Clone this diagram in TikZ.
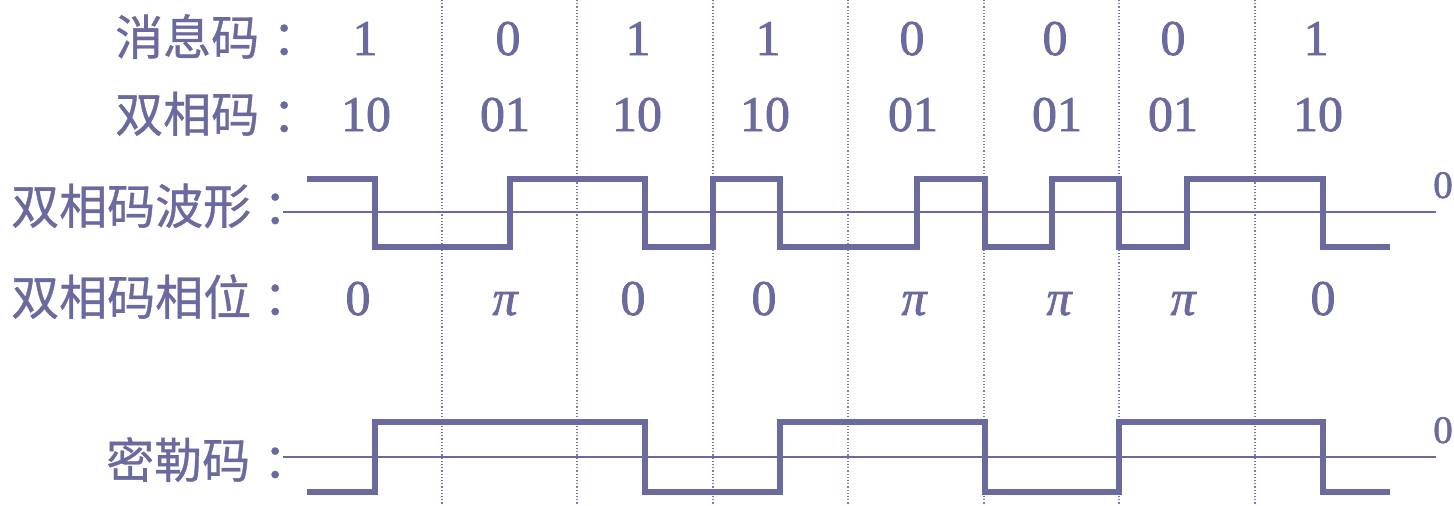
\documentclass[tikz,border=0pt]{standalone}
\usepackage{fontspec}
\setmainfont{Liberation Serif}
\newfontfamily\numfont[FakeBold=1.5]{Liberation Serif}
\newfontfamily\cjk[FakeBold=0.7]{Noto Sans CJK SC}
\definecolor{wavec}{HTML}{6A6A9E}
\definecolor{txtc}{HTML}{6A6A9E}
\definecolor{gridc}{HTML}{7A7AB4}
\begin{document}
\begin{tikzpicture}[x=1pt,y=-1pt,
  lbl/.style={anchor=base west, inner sep=0pt, text=txtc, font=\cjk\fontsize{48}{48}\selectfont},
  num/.style={anchor=base, inner sep=0pt, text=txtc, font=\numfont\fontsize{50}{50}\selectfont},
  zerolbl/.style={anchor=base, inner sep=0pt, text=txtc, font=\numfont\fontsize{39}{39}\selectfont},
  wave/.style={line width=5.5pt, draw=wavec, line join=miter},
  axisline/.style={line width=1.6pt, draw=wavec},
  gridline/.style={line width=1.3pt, draw=gridc, dash pattern=on 1.2pt off 2pt}]
\useasboundingbox (0,0) rectangle (1454,506);
% dotted bit boundaries
\foreach \x in {442,577,713,848,984,1119,1255}
  \draw[gridline] (\x,0) -- (\x,506);
% axes
\draw[axisline] (283,212) -- (1436,212);
\draw[axisline] (283,457) -- (1436,457);
% labels
\node[lbl] (lmsg) at (115,55) {消息码\kern13pt：};
\node[lbl] (lbi) at (115,132) {双相码\kern13pt：};
\node[lbl] (lwave) at (11,224) {双相码波形\kern12pt：};
\node[lbl] (lphase) at (11,315) {双相码相位\kern12pt：};
\node[lbl] (lmiller) at (106,478) {密勒码\kern13pt：};
% message bits
\foreach \x/\t [count=\i] in {365/1,508/0,638/1,768/1,912/0,1055/0,1173/0,1316/1}
  \node[num] (m\i) at (\x,55) {\t};
% biphase code
\foreach \x/\t [count=\i] in {366/10,505/01,637/10,765/10,913/01,1057/01,1173/01,1318/10}
  \node[num] (b\i) at (\x,131) {\t};
% phases
\foreach \x/\t [count=\i] in {358/0,505/{\itshape π},633/0,764/0,914/{\itshape π},1059/{\itshape π},1183/{\itshape π},1323/0}
  \node[num] (p\i) at (\x,315) {\t};
% zero level labels
\node[zerolbl] (z1) at (1443,198) {0};
\node[zerolbl] (z2) at (1443,443) {0};
% biphase waveform
\draw[wave] (307,179) -| (375,247) -| (510,179) -| (645,247) -| (713,179) -| (780,247)
  -| (917,179) -| (985,247) -| (1052,179) -| (1119,247) -| (1187,179) -| (1323,247) -- (1390,247);
% Miller waveform
\draw[wave] (307,492) -| (375,422) -| (645,492) -| (780,422) -| (985,492) -| (1119,422)
  -| (1323,492) -- (1390,492);
\end{tikzpicture}
\end{document}
